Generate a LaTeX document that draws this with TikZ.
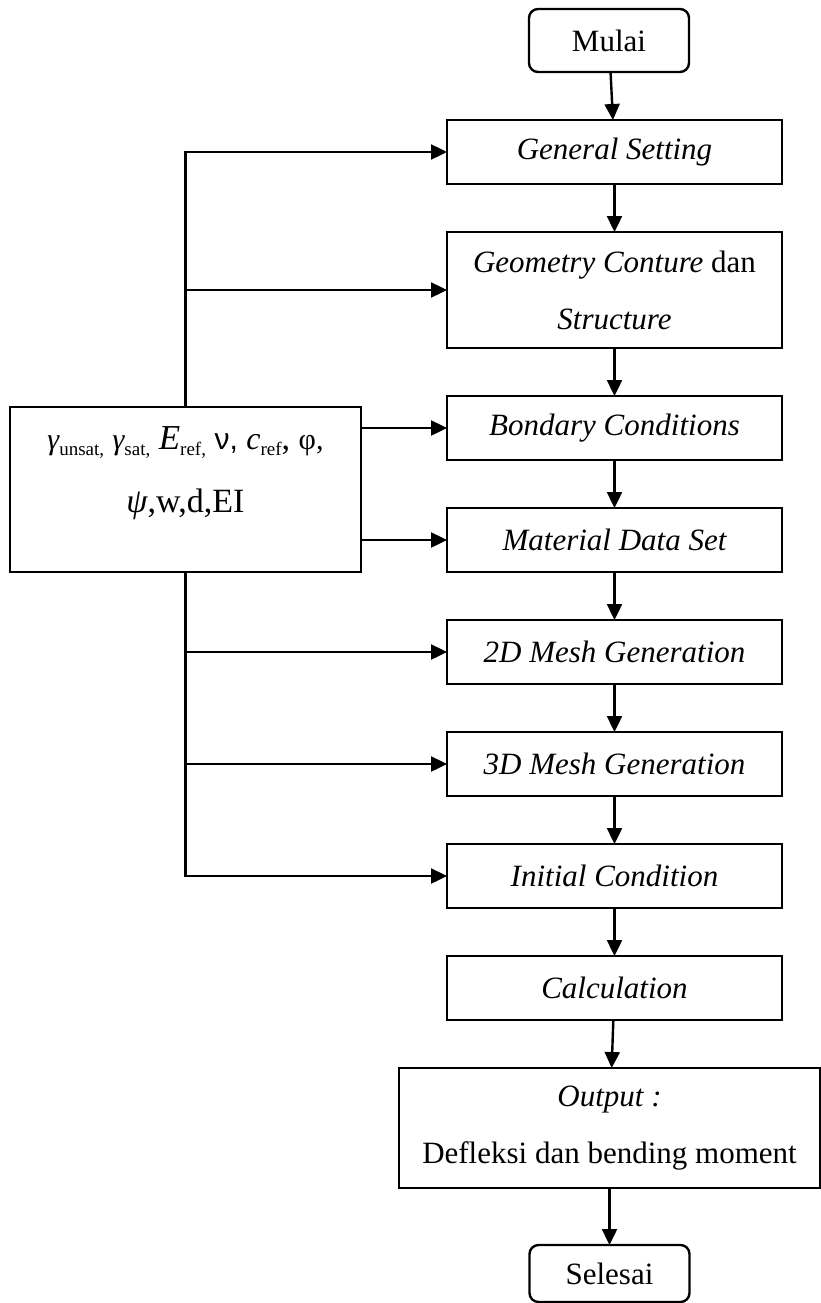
\documentclass[tikz,border=0pt]{standalone}
\usepackage{fontspec}
\setmainfont{Liberation Serif}
\newfontfamily\sansgreek{Liberation Sans}
\usepackage{tikz}
\usetikzlibrary{positioning, arrows.meta}

\newcommand{\lowsub}[1]{\raisebox{-0.4ex}{\fontsize{19}{19}\selectfont #1}}

\begin{document}
\begin{tikzpicture}[x=1pt, y=-1pt, node distance=48pt, line width=2.4pt,
    proc/.style={rectangle, draw, outer sep=0pt, minimum width=335pt, minimum height=64pt, align=center, font=\fontsize{31}{37}\selectfont\itshape},
    term/.style={rectangle, draw, rounded corners=9pt, outer sep=0pt, minimum width=160pt, minimum height=63pt, font=\fontsize{31}{37}\selectfont},
    flow/.style={-{Triangle[length=16pt, width=15pt]}}]
    \useasboundingbox (0,0) rectangle (821,1303);

    % main column
    \node (mulai) [term] at (609,40.5) {Mulai};
    \node (gen) [proc] at (614.5,152) {General Setting};
    \node (geo) [proc, minimum height=116pt, below=of gen] {Geometry Conture {\upshape dan}\\[20pt]Structure};
    \node (bond) [proc, below=of geo] {Bondary Conditions};
    \node (mat) [proc, below=of bond] {Material Data Set};
    \node (mesh2) [proc, below=of mat] {2D Mesh Generation};
    \node (mesh3) [proc, below=of mesh2] {3D Mesh Generation};
    \node (init) [proc, below=of mesh3] {Initial Condition};
    \node (calcul) [proc, below=of init] {Calculation};
    \node (out) [proc, minimum width=421pt, minimum height=120pt, below=of calcul, xshift=-5pt] {Output :\\[20pt]{\upshape Defleksi dan bending moment}};
    \node (selesai) [term, minimum height=57pt, below=57pt of out] {Selesai};

    % input parameters
    \node (param) [rectangle, draw, outer sep=0pt, inner sep=0pt, minimum width=351pt, minimum height=165pt] at (185.5,489.5)
        {\parbox[c][126pt][t]{340pt}{\centering\fontsize{34}{40}\selectfont
        {\fontsize{30}{30}\selectfont\itshape γ}\lowsub{unsat,} {\fontsize{30}{30}\selectfont\itshape γ}\lowsub{sat,} {\fontsize{35}{35}\selectfont\itshape E}\lowsub{ref,} {\fontsize{30}{30}\selectfont\sansgreek ν,} {\fontsize{32}{32}\selectfont\itshape c}\lowsub{ref}, {\fontsize{30}{30}\selectfont φ,}\\[23pt]
        {\itshape ψ},w,d,EI}};

    \draw[flow] (mulai) -- (gen);
    \foreach \a/\b in {gen/geo, geo/bond, bond/mat, mat/mesh2, mesh2/mesh3, mesh3/init, init/calcul, calcul/out, out/selesai}
        \draw[flow] (\a) -- (\b);

    \draw[flow] (param.north) |- (gen.west);
    \draw[flow] (param.north |- geo.west) -- (geo.west);
    \draw[flow] (param.east |- bond.west) -- (bond.west);
    \draw[flow] (param.east |- mat.west) -- (mat.west);
    \draw[flow] (param.south |- mesh2.west) -- (mesh2.west);
    \draw[flow] (param.south |- mesh3.west) -- (mesh3.west);
    \draw[flow] (param.south) |- (init.west);
\end{tikzpicture}
\end{document}
